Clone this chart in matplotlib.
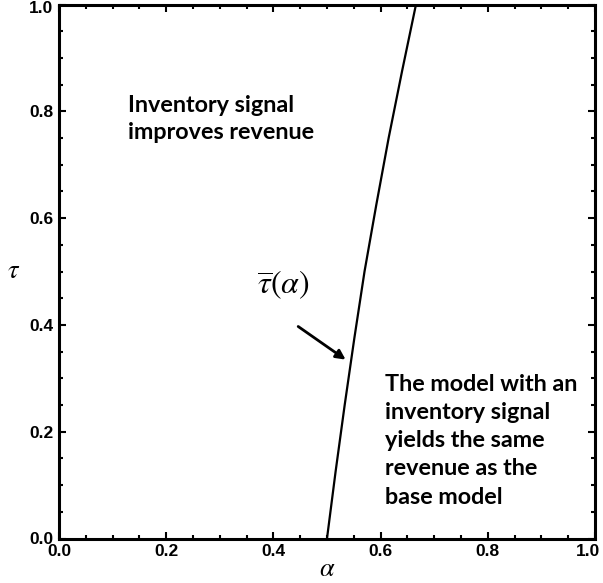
import numpy as np
import matplotlib.pyplot as plt
import matplotlib.transforms as mtransforms
from matplotlib.ticker import MultipleLocator

# threshold curve tau_bar(alpha)
tau_vals = [0.0, 0.125, 0.25, 0.375, 0.5, 0.625, 0.75, 0.875, 1.0]
alpha_vals = [0.500, 0.516, 0.533, 0.551, 0.570, 0.592, 0.615, 0.640, 0.666]

x_ticks = [0.0, 0.2, 0.4, 0.6, 0.8, 1.0]
y_ticks = [0.0, 0.2, 0.4, 0.6, 0.8, 1.0]

upper_text = "Inventory signal\nimproves revenue"
lower_text = "The model with an\ninventory signal\nyields the same\nrevenue as the\nbase model"


def main():
    plt.rcParams['mathtext.fontset'] = 'stix'
    fig = plt.figure(figsize=(6.03, 5.83), dpi=100)
    ax = fig.add_axes([59 / 603, 1 - 538.5 / 583, 536 / 603, 534 / 583])

    ax.plot(alpha_vals, tau_vals, color='black', linewidth=1.6)
    ax.set_xlim(0, 1)
    ax.set_ylim(0, 1)

    ax.set_xticks(x_ticks)
    ax.set_yticks(y_ticks)
    ax.set_xticklabels([f"{v:.1f}" for v in x_ticks])
    ax.set_yticklabels([f"{v:.1f}" for v in y_ticks])
    ax.xaxis.set_minor_locator(MultipleLocator(0.05))
    ax.yaxis.set_minor_locator(MultipleLocator(0.05))
    ax.tick_params(which='both', direction='in', top=True, right=True, width=1.5)
    ax.tick_params(which='major', length=5, labelsize=12.5, pad=4)
    ax.tick_params(which='minor', length=3)
    for lab in ax.get_xticklabels() + ax.get_yticklabels():
        lab.set_fontweight('bold')
        lab.set_family('Liberation Sans')
    # keep the edge labels inside the figure, as in the original
    last = ax.xaxis.get_major_ticks()[-1].label1
    last.set_transform(last.get_transform() +
                       mtransforms.ScaledTranslation(-5 / 72, 0, fig.dpi_scale_trans))
    top = ax.yaxis.get_major_ticks()[-1].label1
    top.set_transform(top.get_transform() +
                      mtransforms.ScaledTranslation(0, -2 / 72, fig.dpi_scale_trans))
    for sp in ax.spines.values():
        sp.set_linewidth(2.2)

    ax.set_xlabel(r'$\alpha$', fontsize=19, labelpad=-2)
    ax.set_ylabel(r'$\tau$', fontsize=19, rotation=0, labelpad=11, va='center')

    ax.text(0.128, 0.786, upper_text, fontsize=16.8, fontweight='bold',
            family='Lato', va='center', ha='left', linespacing=1.38)
    ax.text(0.608, 0.183, lower_text, fontsize=16.8, fontweight='bold',
            family='Lato', va='center', ha='left', linespacing=1.42)

    ax.annotate('', xy=(0.539, 0.332), xytext=(0.442, 0.400),
                arrowprops=dict(arrowstyle='-|>', color='black', lw=2,
                                mutation_scale=14))
    ax.text(0.418, 0.475, r'$\overline{\tau}(\alpha)$', fontsize=23,
            ha='center', va='center')

    fig.savefig("out.png", dpi=100)
    plt.close(fig)


if __name__ == "__main__":
    main()
